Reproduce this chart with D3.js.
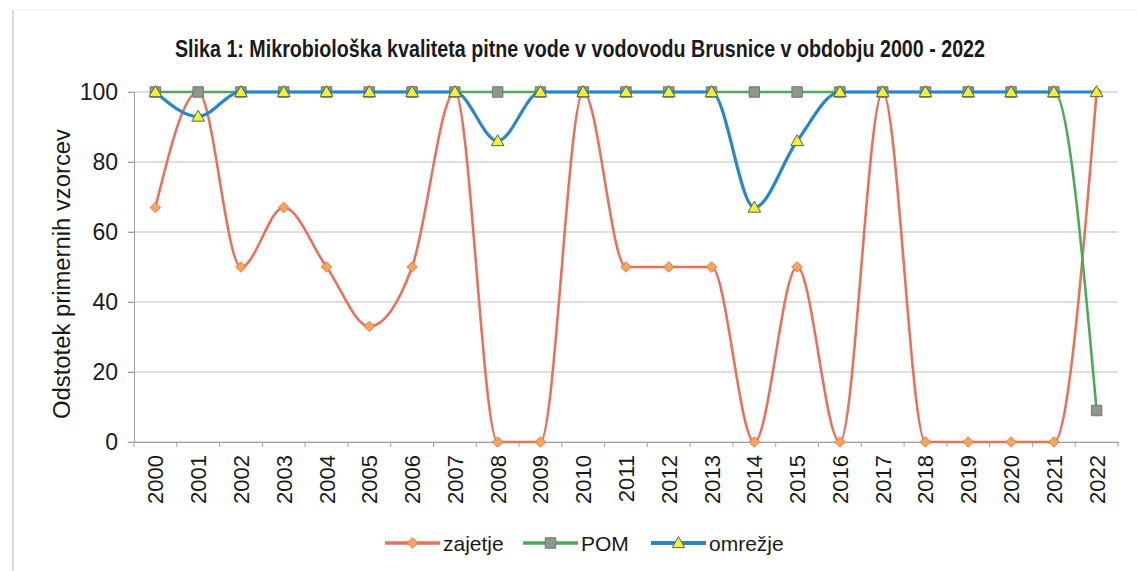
<!DOCTYPE html>
<html>
<head>
<meta charset="utf-8">
<script src="https://cdn.jsdelivr.net/npm/d3@7"></script>
<style>
  body { margin: 0; background: #fff; }
  text { font-family: "Liberation Sans", Arial, sans-serif; fill: #1a1a1a; }
</style>
</head>
<body>
<div id="chart"></div>
<script>
var years = ["2000","2001","2002","2003","2004","2005","2006","2007","2008","2009","2010",
             "2011","2012","2013","2014","2015","2016","2017","2018","2019","2020","2021","2022"];
var zajetje = [67,100,50,67,50,33,50,100,0,0,100,50,50,50,0,50,0,100,0,0,0,0,100];
var pom     = [100,100,100,100,100,100,100,100,100,100,100,100,100,100,100,100,100,100,100,100,100,100,9];
var omrezje = [100,93,100,100,100,100,100,100,86,100,100,100,100,100,67,86,100,100,100,100,100,100,100];
var yTicks = [0,20,40,60,80,100];

var width = 1137, height = 571;
var margin = {top: 92, right: 19, bottom: 129, left: 134};

var svg = d3.select("#chart").append("svg")
    .attr("width", width)
    .attr("height", height);

// faint scan frame
svg.append("line").attr("x1", 13).attr("x2", 13).attr("y1", 10).attr("y2", 571)
    .attr("stroke", "#d8d8d8").attr("stroke-width", 2);
svg.append("line").attr("x1", 13).attr("x2", 1137).attr("y1", 10).attr("y2", 10)
    .attr("stroke", "#eeeeee").attr("stroke-width", 1);

var x = d3.scaleBand()
    .domain(years)
    .range([margin.left, width - margin.right]);

var y = d3.scaleLinear()
    .domain([0, 100])
    .range([height - margin.bottom, margin.top]);

// gridlines
svg.append("g")
    .selectAll("line")
    .data(yTicks)
    .join("line")
    .attr("x1", margin.left - 6)
    .attr("x2", width - margin.right)
    .attr("y1", d => y(d))
    .attr("y2", d => y(d))
    .attr("stroke", "#bdbdbd")
    .attr("stroke-width", 1);

// y axis
var yAxis = svg.append("g")
    .attr("transform", "translate(" + margin.left + ",0)")
    .call(d3.axisLeft(y).tickValues(yTicks).tickSize(6).tickPadding(10));
yAxis.select(".domain").attr("stroke", "#a0a0a0");
yAxis.selectAll(".tick line").attr("stroke", "#a0a0a0");
yAxis.selectAll("text").style("font-size", "23px").attr("fill", "#1a1a1a");

// x axis
var xAxis = svg.append("g")
    .attr("transform", "translate(0," + y(0) + ")")
    .call(d3.axisBottom(x).tickSize(0).tickPadding(0));
xAxis.select(".domain").attr("stroke", "#a0a0a0");
xAxis.selectAll(".tick text")
    .style("font-size", "22px")
    .attr("fill", "#1a1a1a")
    .attr("text-anchor", "end")
    .attr("transform", "translate(8,13) rotate(-90)")
    .attr("dy", 0);
svg.append("g")
    .selectAll("line")
    .data(years.concat(["end"]))
    .join("line")
    .attr("x1", (d, i) => margin.left + i * x.step())
    .attr("x2", (d, i) => margin.left + i * x.step())
    .attr("y1", y(0))
    .attr("y2", y(0) + 5)
    .attr("stroke", "#a0a0a0");

// title
svg.append("text")
    .attr("x", 580)
    .attr("y", 57)
    .attr("text-anchor", "middle")
    .style("font-size", "23px")
    .style("font-weight", "bold")
    .attr("textLength", 810)
    .attr("lengthAdjust", "spacingAndGlyphs")
    .text("Slika 1: Mikrobiološka kvaliteta pitne vode v vodovodu Brusnice v obdobju 2000 - 2022");

// y title
svg.append("text")
    .attr("transform", "translate(70,274) rotate(-90)")
    .attr("text-anchor", "middle")
    .style("font-size", "23px")
    .attr("textLength", 290)
    .attr("lengthAdjust", "spacingAndGlyphs")
    .text("Odstotek primernih vzorcev");

var cx = d => x(d) + x.bandwidth() / 2;
var line = d3.line()
    .x(d => cx(d.year))
    .y(d => y(d.value))
    .curve(d3.curveMonotoneX);

var series = [
  {name: "zajetje", values: zajetje, color: "#e8705c", width: 2.6, marker: "diamond", fill: "#f6a55a", mstroke: "#e8784a"},
  {name: "POM", values: pom, color: "#4caa5a", width: 2.6, marker: "square", fill: "#8f9690", mstroke: "#6f7a72"},
  {name: "omrežje", values: omrezje, color: "#2a86cc", width: 3.2, marker: "triangle", fill: "#f2ef3a", mstroke: "#5d6a3c"}
];

function markerPath(type) {
  if (type == "diamond") return d3.symbol().type(d3.symbolDiamond2).size(70)();
  if (type == "square") return d3.symbol().type(d3.symbolSquare).size(110)();
  return d3.symbol().type(d3.symbolTriangle).size(70)();
}

series.forEach(function(s) {
  var pts = years.map((yr, i) => ({year: yr, value: s.values[i]}));
  svg.append("path")
      .datum(pts)
      .attr("fill", "none")
      .attr("stroke", s.color)
      .attr("stroke-width", s.width)
      .attr("d", line);
  svg.append("g")
      .selectAll("path")
      .data(pts)
      .join("path")
      .attr("d", markerPath(s.marker))
      .attr("transform", d => "translate(" + cx(d.year) + "," + (y(d.value) + (s.marker == "triangle" ? 1 : 0)) + ")")
      .attr("fill", s.fill)
      .attr("stroke", s.mstroke)
      .attr("stroke-width", 1);
});

// legend
var legendX = [385, 523, 651];
var legend = svg.append("g");
series.forEach(function(s, i) {
  var g = legend.append("g").attr("transform", "translate(" + legendX[i] + ",543)");
  g.append("line").attr("x1", 0).attr("x2", 55).attr("y1", 0).attr("y2", 0)
      .attr("stroke", s.color).attr("stroke-width", s.width + 1);
  g.append("path").attr("d", markerPath(s.marker))
      .attr("transform", "translate(27.5," + (s.marker == "triangle" ? 1 : 0) + ")")
      .attr("fill", s.fill).attr("stroke", s.mstroke).attr("stroke-width", 1);
  g.append("text").attr("x", 58).attr("y", 8)
      .style("font-size", "21px")
      .text(s.name);
});
</script>
</body>
</html>
